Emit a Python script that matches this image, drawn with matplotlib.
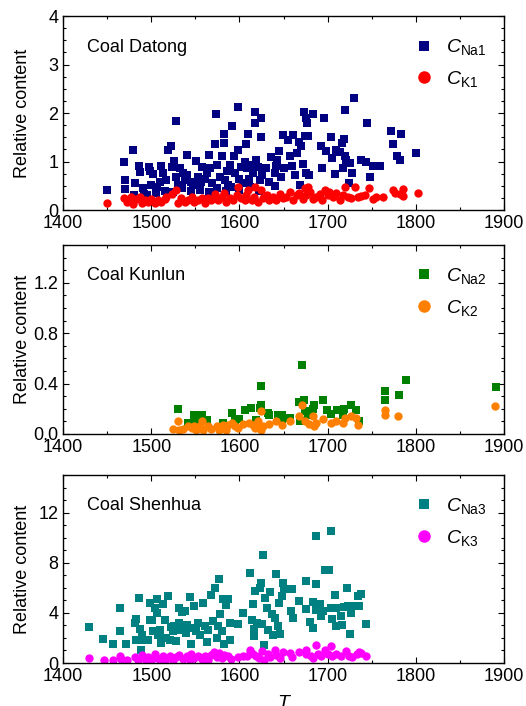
import matplotlib
matplotlib.use("Agg")
import matplotlib.pyplot as plt
from matplotlib.ticker import MultipleLocator

plt.rcParams['font.family'] = ['Liberation Sans', 'DejaVu Sans']
plt.rcParams['mathtext.fontset'] = 'custom'
plt.rcParams['mathtext.rm'] = 'Liberation Sans'
plt.rcParams['mathtext.it'] = 'Liberation Sans:italic'

# ---- Coal Datong ----
na1_T = [1450, 1469, 1470, 1470, 1479, 1481, 1486, 1487, 1491, 1492, 1497, 1498, 1500, 1502,
         1506, 1510, 1511, 1513, 1517, 1519, 1522, 1523, 1526, 1528, 1528, 1530, 1533, 1536,
         1538, 1540, 1541, 1545, 1547, 1551, 1553, 1556, 1558, 1561, 1563, 1565, 1567, 1569,
         1572, 1573, 1574, 1578, 1580, 1582, 1582, 1584, 1586, 1587, 1589, 1592, 1594, 1595,
         1598, 1598, 1600, 1602, 1604, 1606, 1608, 1609, 1610, 1611, 1613, 1615, 1618, 1618,
         1619, 1621, 1623, 1624, 1625, 1626, 1630, 1633, 1636, 1640, 1642, 1643, 1645, 1647,
         1649, 1651, 1655, 1657, 1660, 1661, 1663, 1665, 1667, 1669, 1670, 1672, 1673, 1674,
         1675, 1676, 1677, 1678, 1679, 1683, 1693, 1694, 1696, 1698, 1704, 1705, 1708, 1710,
         1714, 1716, 1718, 1719, 1720, 1720, 1721, 1724, 1725, 1728, 1730, 1738, 1743, 1745,
         1748, 1752, 1760, 1772, 1774, 1779, 1782, 1783, 1800,
         1480, 1495, 1505, 1515, 1525, 1535, 1545, 1555, 1565, 1575, 1585, 1590, 1600, 1612,
         1622, 1640]
na1_C = [0.41, 1.00, 0.62, 0.43, 1.24, 0.55, 0.91, 0.78, 0.45, 0.34, 0.89, 0.81, 0.52, 0.74,
         0.48, 0.58, 0.91, 0.76, 0.62, 1.24, 1.32, 0.89, 1.01, 1.84, 0.69, 0.52, 0.86, 0.76,
         0.62, 1.13, 0.72, 0.58, 0.52, 1.02, 0.69, 0.58, 0.89, 0.65, 0.76, 1.13, 0.86, 0.55,
         1.36, 1.97, 0.93, 0.69, 1.11, 1.39, 1.57, 0.62, 0.81, 0.52, 0.93, 1.73, 1.11, 0.76,
         1.24, 2.13, 0.65, 0.89, 0.55, 1.00, 1.36, 0.86, 1.57, 0.65, 0.93, 0.76, 2.03, 1.80,
         1.04, 0.89, 0.62, 1.50, 1.89, 0.72, 0.86, 0.58, 1.09, 0.76, 0.91, 1.04, 1.22, 0.69,
         1.54, 0.86, 1.44, 1.11, 0.91, 1.54, 0.72, 1.17, 1.40, 0.52, 1.33, 0.95, 2.03, 1.53,
         1.89, 0.76, 1.80, 1.53, 0.72, 1.98, 1.33, 0.86, 1.89, 1.22, 1.50, 1.07, 0.74, 1.24,
         1.20, 1.38, 0.86, 1.46, 2.06, 1.11, 1.04, 0.56, 0.98, 0.77, 2.32, 1.03, 1.00, 1.80,
         0.69, 0.91, 0.91, 1.62, 1.36, 1.11, 1.04, 1.57, 1.18,
         0.30, 0.30, 0.35, 0.40, 0.38, 0.45, 0.40, 0.42, 0.38, 0.45, 0.40, 0.48, 0.42, 0.48,
         0.40, 0.50]
k1_T = [1450, 1469, 1472, 1477, 1479, 1483, 1487, 1489, 1493, 1496, 1500, 1504, 1508, 1511,
        1515, 1517, 1523, 1528, 1530, 1534, 1538, 1542, 1546, 1549, 1553, 1557, 1561, 1564,
        1568, 1572, 1576, 1580, 1583, 1585, 1589, 1593, 1597, 1598, 1602, 1606, 1608, 1610,
        1614, 1617, 1618, 1621, 1625, 1627, 1631, 1634, 1638, 1642, 1646, 1649, 1653, 1657,
        1661, 1665, 1668, 1672, 1674, 1676, 1678, 1680, 1683, 1687, 1691, 1694, 1697, 1700,
        1702, 1706, 1710, 1714, 1717, 1720, 1723, 1727, 1731, 1734, 1738, 1742, 1747, 1751,
        1755, 1763, 1774, 1776, 1782, 1785, 1786, 1803]
k1_C = [0.15, 0.24, 0.17, 0.27, 0.12, 0.22, 0.27, 0.14, 0.21, 0.17, 0.22, 0.14, 0.21, 0.17,
        0.22, 0.27, 0.34, 0.41, 0.14, 0.24, 0.17, 0.21, 0.27, 0.17, 0.21, 0.24, 0.15, 0.24,
        0.21, 0.34, 0.21, 0.27, 0.36, 0.17, 0.24, 0.21, 0.31, 0.47, 0.24, 0.21, 0.31, 0.41,
        0.21, 0.27, 0.47, 0.17, 0.41, 0.24, 0.31, 0.21, 0.27, 0.21, 0.34, 0.24, 0.27, 0.38,
        0.21, 0.31, 0.36, 0.22, 0.45, 0.31, 0.48, 0.38, 0.22, 0.27, 0.34, 0.21, 0.41, 0.31,
        0.38, 0.27, 0.36, 0.21, 0.31, 0.48, 0.27, 0.24, 0.47, 0.27, 0.29, 0.31, 0.45, 0.22,
        0.27, 0.27, 0.41, 0.36, 0.33, 0.43, 0.29, 0.36]

# ---- Coal Kunlun ----
na2_T = [1530, 1542, 1549, 1551, 1558, 1563, 1581, 1592, 1595, 1600, 1606, 1613, 1619, 1623,
         1624, 1625, 1632, 1634, 1644, 1648, 1648, 1657, 1668, 1669, 1671, 1673, 1674, 1678,
         1683, 1685, 1695, 1699, 1704, 1711, 1717, 1719, 1726, 1732, 1736, 1765, 1765, 1781,
         1789, 1891]
na2_C = [0.20, 0.09, 0.15, 0.10, 0.15, 0.11, 0.09, 0.17, 0.11, 0.12, 0.19, 0.21, 0.11, 0.21,
         0.23, 0.38, 0.17, 0.15, 0.15, 0.15, 0.11, 0.13, 0.25, 0.10, 0.55, 0.27, 0.18, 0.15,
         0.20, 0.23, 0.27, 0.19, 0.16, 0.19, 0.15, 0.20, 0.23, 0.19, 0.10, 0.34, 0.27, 0.31,
         0.43, 0.37]
k2_T = [1525, 1530, 1532, 1536, 1542, 1546, 1549, 1551, 1555, 1558, 1559, 1564, 1568, 1574,
        1577, 1580, 1581, 1585, 1587, 1592, 1595, 1598, 1604, 1611, 1615, 1618, 1621, 1622,
        1625, 1625, 1627, 1633, 1642, 1648, 1657, 1668, 1671, 1674, 1679, 1683, 1685, 1687,
        1695, 1704, 1710, 1717, 1720, 1726, 1732, 1735, 1765, 1765, 1780, 1890]
k2_C = [0.04, 0.10, 0.03, 0.04, 0.06, 0.05, 0.06, 0.03, 0.06, 0.10, 0.03, 0.06, 0.04, 0.06,
        0.03, 0.05, 0.07, 0.03, 0.07, 0.09, 0.06, 0.05, 0.08, 0.09, 0.07, 0.05, 0.10, 0.06,
        0.18, 0.03, 0.06, 0.08, 0.10, 0.07, 0.10, 0.14, 0.23, 0.10, 0.08, 0.14, 0.06, 0.09,
        0.12, 0.09, 0.10, 0.09, 0.13, 0.14, 0.13, 0.07, 0.19, 0.15, 0.14, 0.22]

# ---- Coal Shenhua ----
na3_T = [1429, 1445, 1457, 1464, 1465, 1471, 1482, 1483, 1483, 1486, 1487, 1488, 1490, 1492,
         1496, 1498, 1499, 1501, 1502, 1504, 1506, 1507, 1508, 1510, 1511, 1513, 1516, 1517,
         1519, 1521, 1522, 1525, 1526, 1528, 1531, 1532, 1534, 1535, 1538, 1539, 1541, 1544,
         1545, 1546, 1549, 1551, 1553, 1555, 1559, 1561, 1563, 1564, 1568, 1570, 1572, 1574,
         1576, 1577, 1578, 1580, 1581, 1582, 1585, 1587, 1589, 1589, 1598, 1604, 1612, 1614,
         1615, 1616, 1616, 1618, 1620, 1623, 1625, 1626, 1627, 1628, 1629, 1631, 1632, 1635,
         1637, 1638, 1640, 1642, 1644, 1645, 1646, 1648, 1649, 1650, 1659, 1660, 1661, 1668,
         1675, 1676, 1680, 1683, 1684, 1687, 1687, 1687, 1691, 1693, 1695, 1697, 1702, 1704,
         1704, 1705, 1708, 1709, 1710, 1715, 1716, 1719, 1722, 1723, 1725, 1727, 1732, 1734,
         1736, 1738, 1744]
na3_C = [2.88, 1.95, 1.55, 2.53, 4.35, 1.49, 3.20, 3.55, 1.81, 5.20, 2.75, 1.01, 2.27, 1.87,
         1.87, 3.47, 4.75, 3.47, 2.53, 4.40, 5.07, 4.00, 2.27, 2.67, 1.60, 4.72, 3.41, 2.00,
         5.33, 1.87, 2.85, 2.53, 2.99, 1.73, 4.35, 3.20, 2.67, 4.08, 4.13, 2.40, 3.07, 5.28,
         1.52, 2.80, 4.53, 2.53, 3.20, 2.27, 4.80, 2.93, 1.65, 2.67, 5.39, 3.33, 6.00, 2.00,
         2.99, 6.72, 3.87, 2.53, 5.07, 1.55, 4.59, 5.12, 3.20, 1.87, 3.15, 4.00, 7.15, 3.47,
         4.67, 2.72, 2.13, 5.73, 3.20, 6.00, 6.40, 3.12, 8.59, 1.47, 5.20, 4.40, 2.67, 5.65,
         3.87, 2.27, 3.60, 7.07, 2.99, 4.75, 2.35, 5.33, 6.40, 5.87, 4.13, 5.87, 3.60, 4.93,
         4.32, 6.53, 3.25, 4.85, 2.80, 6.27, 10.13, 4.21, 4.67, 3.79, 4.13, 7.41, 7.41, 10.53,
         4.40, 3.55, 5.39, 2.93, 4.40, 3.79, 3.07, 4.48, 6.00, 4.53, 2.35, 3.95, 4.53, 5.33,
         4.53, 5.47, 3.12]
k3_T = [1429, 1446, 1457, 1465, 1466, 1472, 1482, 1485, 1489, 1493, 1496, 1500, 1504, 1506,
        1510, 1513, 1517, 1521, 1525, 1528, 1532, 1536, 1540, 1544, 1545, 1549, 1553, 1557,
        1561, 1564, 1568, 1571, 1574, 1577, 1580, 1583, 1587, 1590, 1598, 1604, 1609, 1612,
        1615, 1619, 1622, 1626, 1628, 1632, 1635, 1640, 1642, 1646, 1649, 1657, 1660, 1668,
        1675, 1676, 1681, 1684, 1687, 1689, 1693, 1697, 1700, 1704, 1705, 1710, 1715, 1721,
        1724, 1728, 1733, 1736, 1738, 1744]
k3_C = [0.40, 0.27, 0.21, 0.59, 0.32, 0.27, 0.48, 0.27, 0.67, 0.32, 0.48, 0.27, 0.75, 0.40,
        0.27, 0.53, 0.32, 0.59, 0.27, 0.48, 0.67, 0.32, 0.53, 0.27, 0.75, 0.40, 0.59, 0.32,
        0.53, 0.27, 0.67, 0.85, 0.48, 0.80, 0.40, 0.67, 0.53, 0.35, 0.48, 0.59, 0.59, 1.07,
        0.75, 0.59, 0.40, 0.93, 0.27, 0.75, 0.48, 1.07, 0.67, 0.40, 0.85, 0.80, 0.48, 0.88,
        0.75, 1.01, 0.59, 0.40, 1.47, 0.75, 0.53, 1.07, 0.75, 1.39, 0.59, 0.75, 0.53, 0.93,
        0.59, 0.48, 0.75, 0.85, 0.80, 0.53]

panels = [
    ("Coal Datong", na1_T, na1_C, k1_T, k1_C, "Na1", "K1", "#000080", "#ff0000",
     (0, 4), 0.25, [0, 1, 2, 3, 4], ["0", "1", "2", "3", "4"]),
    ("Coal Kunlun", na2_T, na2_C, k2_T, k2_C, "Na2", "K2", "#008000", "#ff8000",
     (0, 1.5), 0.1, [0, 0.4, 0.8, 1.2], ["0.0", "0.4", "0.8", "1.2"]),
    ("Coal Shenhua", na3_T, na3_C, k3_T, k3_C, "Na3", "K3", "#008080", "#ff00ff",
     (0, 15), 1, [0, 4, 8, 12], ["0", "4", "8", "12"]),
]

fig = plt.figure(figsize=(5.26, 7.06), dpi=100)
boxes = [(0.120, 0.7025, 0.838, 0.2748),
         (0.120, 0.3853, 0.838, 0.2677),
         (0.120, 0.0609, 0.838, 0.2663)]

for box, p in zip(boxes, panels):
    (name, naT, naC, kT, kC, nasub, ksub, nacol, kcol,
     ylim, minor, yticks, ylabels) = p
    ax = fig.add_axes(box)
    ax.plot(naT, naC, 's', color=nacol, ms=5.2, mew=0, label=r'$C_{\mathrm{%s}}$' % nasub)
    ax.plot(kT, kC, 'o', color=kcol, ms=6, mew=0, label=r'$C_{\mathrm{%s}}$' % ksub)
    ax.set_xlim(1400, 1900)
    ax.set_ylim(*ylim)
    ax.xaxis.set_major_locator(MultipleLocator(100))
    ax.xaxis.set_minor_locator(MultipleLocator(50))
    ax.set_yticks(yticks)
    ax.set_yticklabels(ylabels)
    ax.yaxis.set_minor_locator(MultipleLocator(minor))
    ax.tick_params(which='both', direction='in', top=True, right=True, labelsize=13, width=0.8)
    ax.tick_params(which='major', length=4)
    ax.tick_params(which='minor', length=2.5)
    for s in ax.spines.values():
        s.set_linewidth(1.0)
    ax.set_ylabel("Relative content", fontsize=13)
    ax.yaxis.set_label_coords(-0.072, 0.5)
    ax.text(0.054, 0.84, name, transform=ax.transAxes, fontsize=13, va='center', ha='left')
    ax.legend(loc='upper left', bbox_to_anchor=(0.78, 0.93), frameon=False, fontsize=14,
              markerscale=1.5, handlelength=1.0, handletextpad=0.6, labelspacing=0.6,
              borderaxespad=0)

fig.text(0.538, 1 - 703 / 706, "T", style='italic', fontsize=14, ha='center', va='center')

fig.savefig("out.png", dpi=100)
